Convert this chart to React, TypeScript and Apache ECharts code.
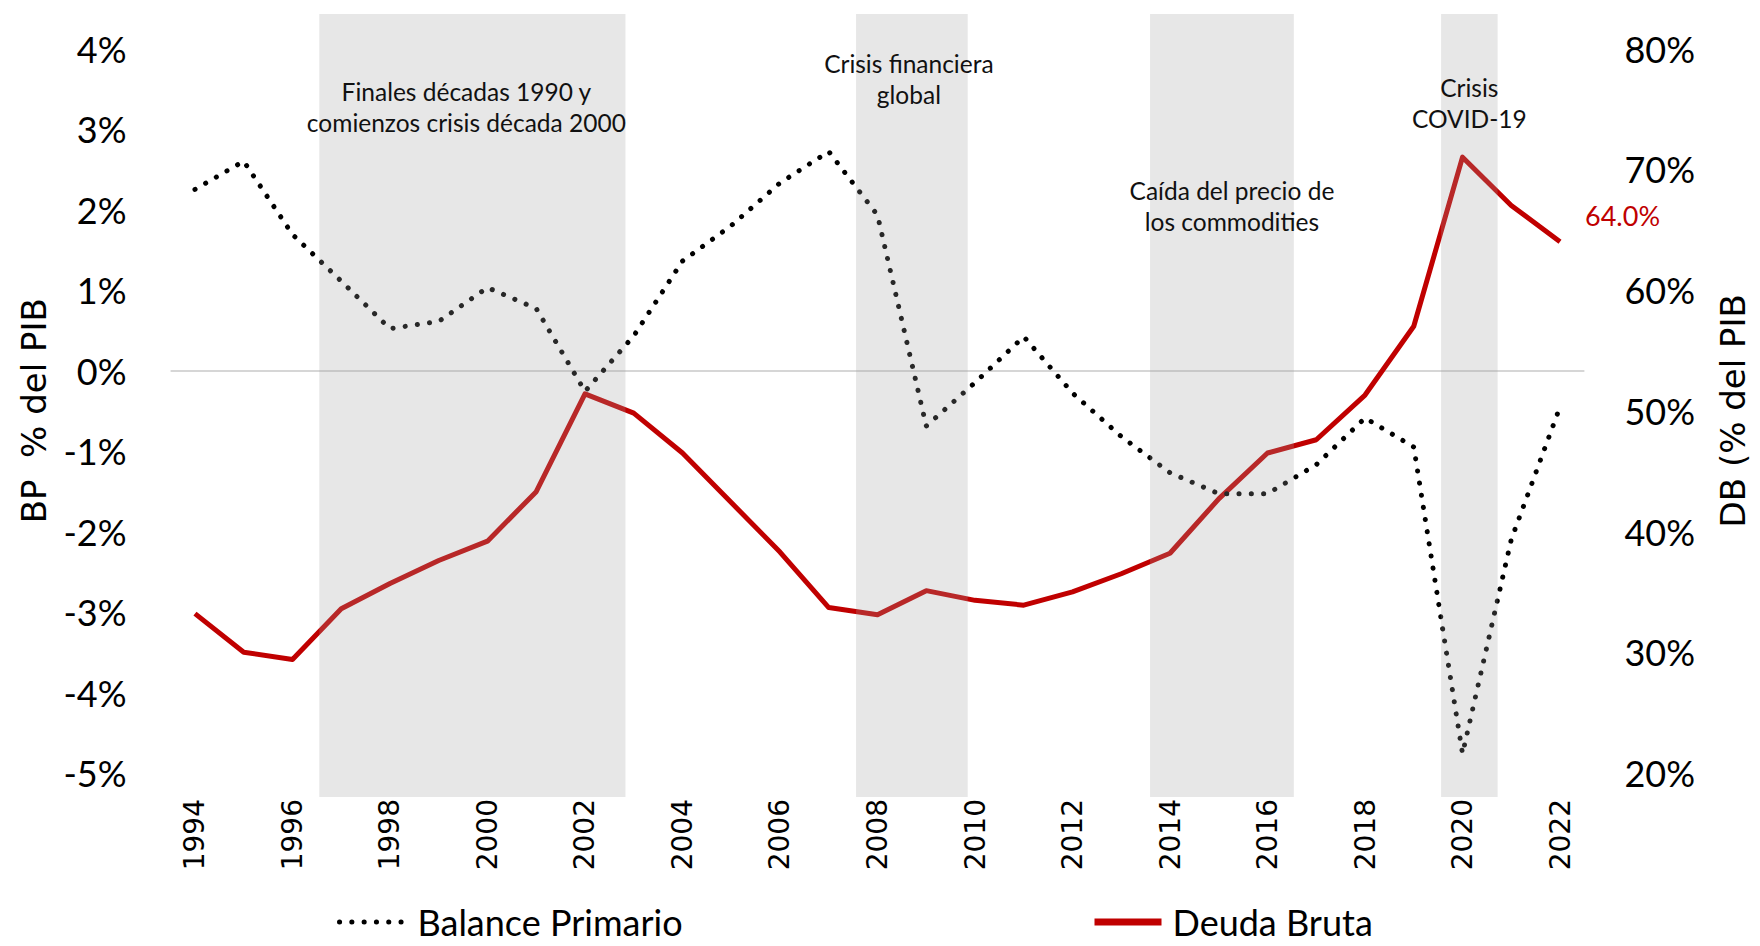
import React, { useEffect, useRef } from "react";
import * as echarts from "echarts";

// ---- Data ----
const years = [
  "1994", "1995", "1996", "1997", "1998", "1999", "2000", "2001", "2002", "2003",
  "2004", "2005", "2006", "2007", "2008", "2009", "2010", "2011", "2012", "2013",
  "2014", "2015", "2016", "2017", "2018", "2019", "2020", "2021", "2022",
];
// Balance Primario (% del PIB), left axis
const balancePrimario = [
  2.25, 2.6, 1.69, 1.11, 0.52, 0.61, 1.03, 0.77, -0.26, 0.43,
  1.36, 1.8, 2.33, 2.72, 1.93, -0.69, -0.15, 0.42, -0.28, -0.82,
  -1.27, -1.53, -1.53, -1.17, -0.59, -0.95, -4.76, -2.1, -0.45,
];
// Deuda Bruta (% del PIB), right axis
const deudaBruta = [
  33.2, 30.0, 29.4, 33.6, 35.7, 37.6, 39.2, 43.3, 51.4, 49.8,
  46.5, 42.4, 38.3, 33.7, 33.1, 35.1, 34.3, 33.9, 35.0, 36.5,
  38.2, 42.7, 46.5, 47.6, 51.3, 57.0, 71.0, 67.0, 64.0,
];
// Shaded crisis periods (fractional years)
const bandStart = [1996.55, 2007.56, 2013.59, 2019.56];
const bandEnd = [2002.83, 2009.85, 2016.54, 2020.72];
const bandLabels = [
  "Finales décadas 1990 y\ncomienzos crisis década 2000",
  "Crisis financiera\nglobal",
  "Caída del precio de\nlos commodities",
  "Crisis\nCOVID-19",
];
const leftTicks = { min: -5, max: 4, interval: 1 };
const rightTicks = { min: 20, max: 80, interval: 10 };

// ---- Layout / style (not data) ----
const bandLabelOffsets = [
  [-6, 62],
  [-3, 34],
  [10, 161],
  [0, 58],
];
const CAL = "Lato, 'Open Sans', sans-serif";
const DJ = "'DejaVu Sans', Verdana, sans-serif";

export default function App() {
  const ref = useRef<HTMLDivElement>(null);

  useEffect(() => {
    if (!ref.current) return;
    const chart = echarts.init(ref.current, undefined, { renderer: "svg" });

    const gridLeft = 170.6;
    const gridRight = 175.6;

    const legendText = {
      color: "#000",
      fontFamily: CAL,
      fontSize: 36,
      padding: [0, 0, 0, 6],
    };

    const option: any = {
      animation: false,
      backgroundColor: "#ffffff",
      grid: [
        { left: gridLeft, right: gridRight, top: 48.5, bottom: 173, outerBoundsMode: "none", containLabel: false },
        { left: gridLeft, right: gridRight, top: 14, bottom: 149, outerBoundsMode: "none", containLabel: false },
      ],
      xAxis: [
        {
          type: "category",
          gridIndex: 0,
          data: years,
          boundaryGap: true,
          axisLine: { show: false },
          axisTick: { show: false },
          splitLine: { show: false },
          axisLabel: {
            interval: 1,
            rotate: 90,
            margin: 26,
            color: "#000",
            fontFamily: DJ,
            fontSize: 28,
          },
        },
        {
          type: "value",
          gridIndex: 1,
          min: 1993.5,
          max: 2022.5,
          show: false,
        },
      ],
      yAxis: [
        {
          type: "value",
          gridIndex: 0,
          position: "left",
          min: leftTicks.min,
          max: leftTicks.max,
          interval: leftTicks.interval,
          name: "BP  % del PIB",
          nameLocation: "middle",
          nameRotate: 90,
          nameGap: 120,
          nameTextStyle: { color: "#000", fontFamily: DJ, fontSize: 34 },
          axisLine: { show: false },
          axisTick: { show: false },
          splitLine: { show: false },
          axisLabel: {
            formatter: "{value}%",
            margin: 44,
            color: "#000",
            fontFamily: CAL,
            fontSize: 36,
          },
        },
        {
          type: "value",
          gridIndex: 0,
          position: "right",
          min: rightTicks.min,
          max: rightTicks.max,
          interval: rightTicks.interval,
          name: "DB (% del PIB",
          nameLocation: "middle",
          nameRotate: 90,
          nameGap: 132,
          nameTextStyle: { color: "#000", fontFamily: DJ, fontSize: 34 },
          axisLine: { show: false },
          axisTick: { show: false },
          splitLine: { show: false },
          axisLabel: {
            formatter: "{value}%",
            margin: 40,
            color: "#000",
            fontFamily: CAL,
            fontSize: 36,
          },
        },
        {
          type: "value",
          gridIndex: 1,
          min: 0,
          max: 1,
          show: false,
        },
      ],
      legend: [
        {
          data: ["Balance Primario"],
          left: 337,
          top: 904,
          padding: 0,
          itemWidth: 67,
          itemHeight: 14,
          itemStyle: { opacity: 0 },
          lineStyle: { width: 5 },
          textStyle: legendText,
        },
        {
          data: ["Deuda Bruta"],
          left: 1091,
          top: 904,
          padding: 0,
          itemWidth: 67,
          itemHeight: 14,
          itemStyle: { opacity: 0 },
          lineStyle: { width: 7 },
          textStyle: legendText,
        },
      ],
      series: [
        {
          name: "Balance Primario",
          type: "line",
          xAxisIndex: 0,
          yAxisIndex: 0,
          data: balancePrimario,
          symbol: "none",
          z: 3,
          lineStyle: { color: "#000", width: 5, type: [0.1, 12.2], cap: "round" },
          itemStyle: { color: "#000" },
          markLine: {
            silent: true,
            symbol: "none",
            label: { show: false },
            lineStyle: { color: "#d6d6d6", width: 2, type: "solid" },
            data: [{ yAxis: 0 }],
            z: 1,
          },
        },
        {
          name: "Deuda Bruta",
          type: "line",
          xAxisIndex: 0,
          yAxisIndex: 1,
          data: deudaBruta,
          symbol: "none",
          z: 2,
          lineStyle: { color: "#c00000", width: 5, join: "round" },
          itemStyle: { color: "#c00000" },
          endLabel: {
            show: true,
            distance: 25,
            offset: [0, -26],
            color: "#c00000",
            fontFamily: CAL,
            fontSize: 27,
            formatter: (p: any) => {
              const v = Array.isArray(p.value) ? p.value[p.value.length - 1] : p.value;
              return Number(v).toFixed(1) + "%";
            },
          },
        },
        {
          name: "bands",
          type: "custom",
          xAxisIndex: 1,
          yAxisIndex: 2,
          z: 10,
          silent: true,
          data: bandStart.map((s, i) => [s, bandEnd[i]]),
          renderItem: (params: any, api: any) => {
            const i = params.dataIndex;
            const p0 = api.coord([api.value(0), 1]);
            const p1 = api.coord([api.value(1), 0]);
            const off = bandLabelOffsets[i];
            return {
              type: "group",
              children: [
                {
                  type: "rect",
                  shape: { x: p0[0], y: p0[1], width: p1[0] - p0[0], height: p1[1] - p0[1] },
                  style: { fill: "rgba(160,160,160,0.25)" },
                },
                {
                  type: "text",
                  x: (p0[0] + p1[0]) / 2 + off[0],
                  y: p0[1] + off[1],
                  style: {
                    text: bandLabels[i],
                    fill: "#111",
                    fontFamily: CAL,
                    fontSize: 24.5,
                    lineHeight: 31,
                    align: "center",
                    verticalAlign: "top",
                  },
                },
              ],
            };
          },
        },
      ],
    };

    chart.setOption(option);
    return () => chart.dispose();
  }, []);

  return (
    <div
      ref={ref}
      style={{ position: "absolute", left: 0, top: 0, width: 1760, height: 946 }}
    />
  );
}
